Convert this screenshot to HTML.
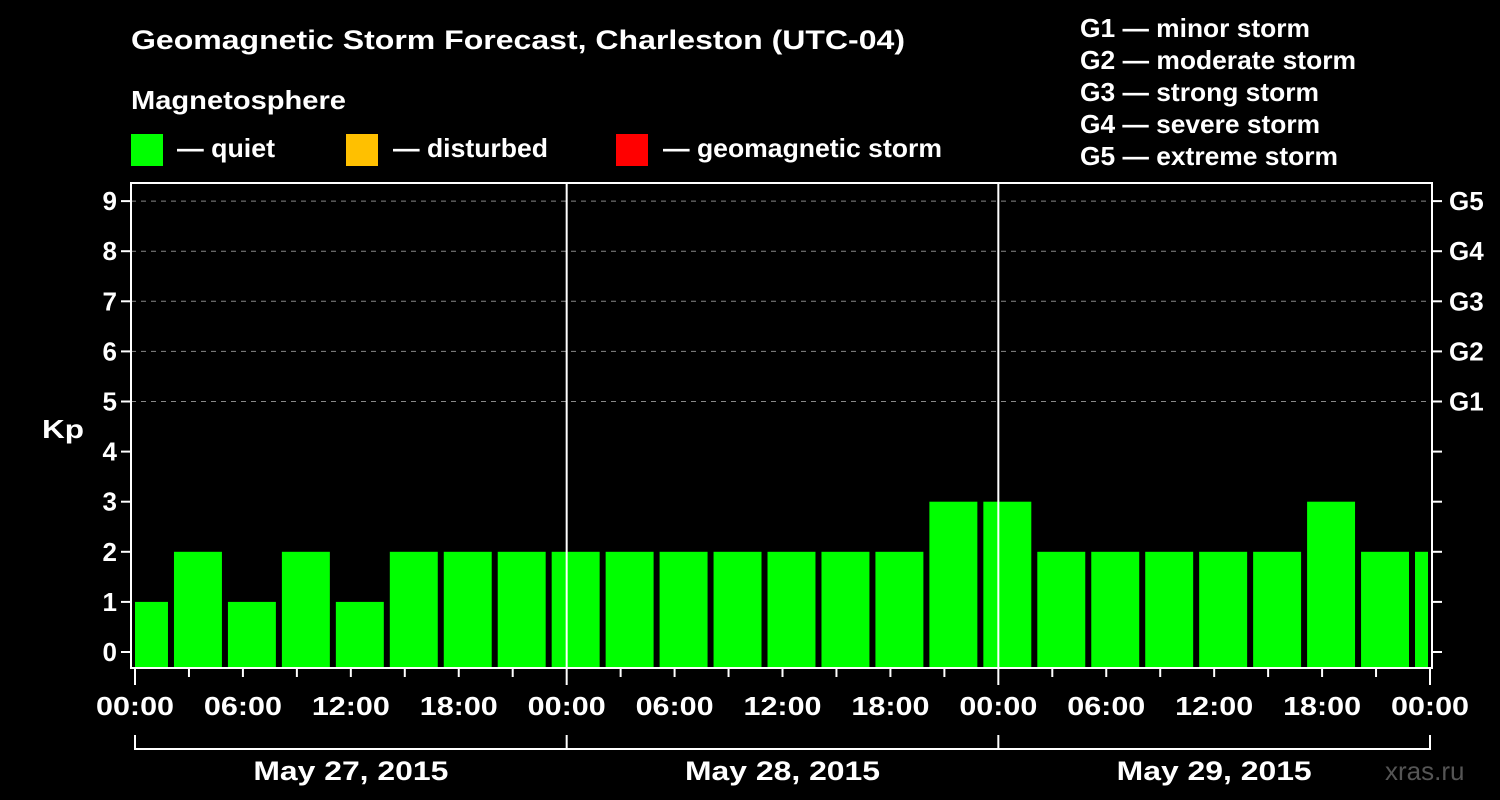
<!DOCTYPE html>
<html><head><meta charset="utf-8"><style>
body{margin:0;background:#000;width:1500px;height:800px;overflow:hidden}
svg{display:block;font-family:"Liberation Sans",sans-serif;font-weight:bold}
</style></head><body>
<svg id="c" width="1500" height="800">
<text x="131" y="49" fill="#fff" font-size="27" textLength="774" lengthAdjust="spacingAndGlyphs">Geomagnetic Storm Forecast, Charleston (UTC-04)</text>
<text x="131" y="109" fill="#fff" font-size="26" textLength="215" lengthAdjust="spacingAndGlyphs">Magnetosphere</text>
<g><rect x="131" y="134" width="32" height="32" fill="#00ff00"/><text x="177" y="157" fill="#fff" font-size="26" textLength="98" lengthAdjust="spacingAndGlyphs">— quiet</text></g>
<g><rect x="346" y="134" width="32" height="32" fill="#ffc000"/><text x="393" y="157" fill="#fff" font-size="26" textLength="155" lengthAdjust="spacingAndGlyphs">— disturbed</text></g>
<g><rect x="616" y="134" width="32" height="32" fill="#ff0000"/><text x="663" y="157" fill="#fff" font-size="26" textLength="279" lengthAdjust="spacingAndGlyphs">— geomagnetic storm</text></g>
<g fill="#fff" font-size="26" lengthAdjust="spacingAndGlyphs">
<text x="1080" y="37" textLength="230" lengthAdjust="spacingAndGlyphs">G1 — minor storm</text>
<text x="1080" y="69" textLength="276" lengthAdjust="spacingAndGlyphs">G2 — moderate storm</text>
<text x="1080" y="101" textLength="239" lengthAdjust="spacingAndGlyphs">G3 — strong storm</text>
<text x="1080" y="133" textLength="240" lengthAdjust="spacingAndGlyphs">G4 — severe storm</text>
<text x="1080" y="165" textLength="258" lengthAdjust="spacingAndGlyphs">G5 — extreme storm</text></g>
<text x="42" y="438" fill="#fff" font-size="26" textLength="42" lengthAdjust="spacingAndGlyphs">Kp</text>
<text x="1385" y="780" fill="#555" font-size="26" font-weight="normal">xras.ru</text>
<g id="grid"></g><g id="bars"></g><g id="axes"></g>
</svg>
<script>
const values=[1,2,1,2,1,2,2,2,2,2,2,2,2,2,2,3,3,2,2,2,2,2,3,2,2];
const hourLabels=["00:00","06:00","12:00","18:00","00:00","06:00","12:00","18:00","00:00","06:00","12:00","18:00","00:00"];
const dayLabels=["May 27, 2015","May 28, 2015","May 29, 2015"];
const gLabels=["G1","G2","G3","G4","G5"];
const X0=135,X1=1430,L=131,R=1432,T=183,B=668;
const x=h=>X0+(X1-X0)*h/72;
const y=v=>652-50.1*v;
const NS="http://www.w3.org/2000/svg";
function mk(p,t,a,txt){const e=document.createElementNS(NS,t);for(const k in a)e.setAttribute(k,a[k]);if(txt!==undefined)e.textContent=txt;document.getElementById(p).appendChild(e);return e;}
for(let v=5;v<=9;v++){const e=mk('grid','line',{x1:L,x2:R,y1:y(v),y2:y(v),stroke:'#888','stroke-dasharray':'5,5'});

}
values.forEach((v,i)=>{let a=x(-1+3*i)+3,b=x(2+3*i)-3;a=Math.max(a,X0);b=Math.min(b,X1-2);
const c=v>=5?'#ff0000':(v>=4?'#ffc000':'#00ff00');
const e=mk('bars','rect',{x:a,y:y(v),width:b-a,height:B-y(v),fill:c});

});
[1,2].forEach(d=>{const e=mk('axes','line',{x1:x(24*d),x2:x(24*d),y1:T,y2:B,stroke:'#fff','stroke-width':2});

});
const f=mk('axes','rect',{x:L,y:T,width:R-L,height:B-T,fill:'none',stroke:'#fff','stroke-width':2});


for(let v=0;v<=9;v++){mk('axes','line',{x1:L-10,x2:L,y1:y(v),y2:y(v),stroke:'#fff','stroke-width':2});
mk('axes','line',{x1:R,x2:R+10,y1:y(v),y2:y(v),stroke:'#fff','stroke-width':2});
const t=mk('axes','text',{x:L-14,y:y(v)+9,fill:'#fff','font-size':26,'text-anchor':'end'},String(v));

}
gLabels.forEach((g,i)=>{const t=mk('axes','text',{x:1449,y:y(5+i)+9,fill:'#fff','font-size':26},g);

});
for(let h=0;h<=72;h+=3){mk('axes','line',{x1:x(h),x2:x(h),y1:B,y2:B+(h%24===0?17:9),stroke:'#fff','stroke-width':2});}
hourLabels.forEach((s,i)=>{const t=mk('axes','text',{x:x(i*6),y:715,fill:'#fff','font-size':26,'text-anchor':'middle',textLength:78,lengthAdjust:'spacingAndGlyphs'},s);

});
mk('axes','path',{d:`M${x(0)},735V749H${x(72)}V735`,fill:'none',stroke:'#fff','stroke-width':2});
[1,2].forEach(d=>mk('axes','line',{x1:x(24*d),x2:x(24*d),y1:735,y2:749,stroke:'#fff','stroke-width':2}));
dayLabels.forEach((s,i)=>{const t=mk('axes','text',{x:x(24*i+12),y:780,fill:'#fff','font-size':27,'text-anchor':'middle',textLength:195,lengthAdjust:'spacingAndGlyphs'},s);

});
</script>
</body></html>
